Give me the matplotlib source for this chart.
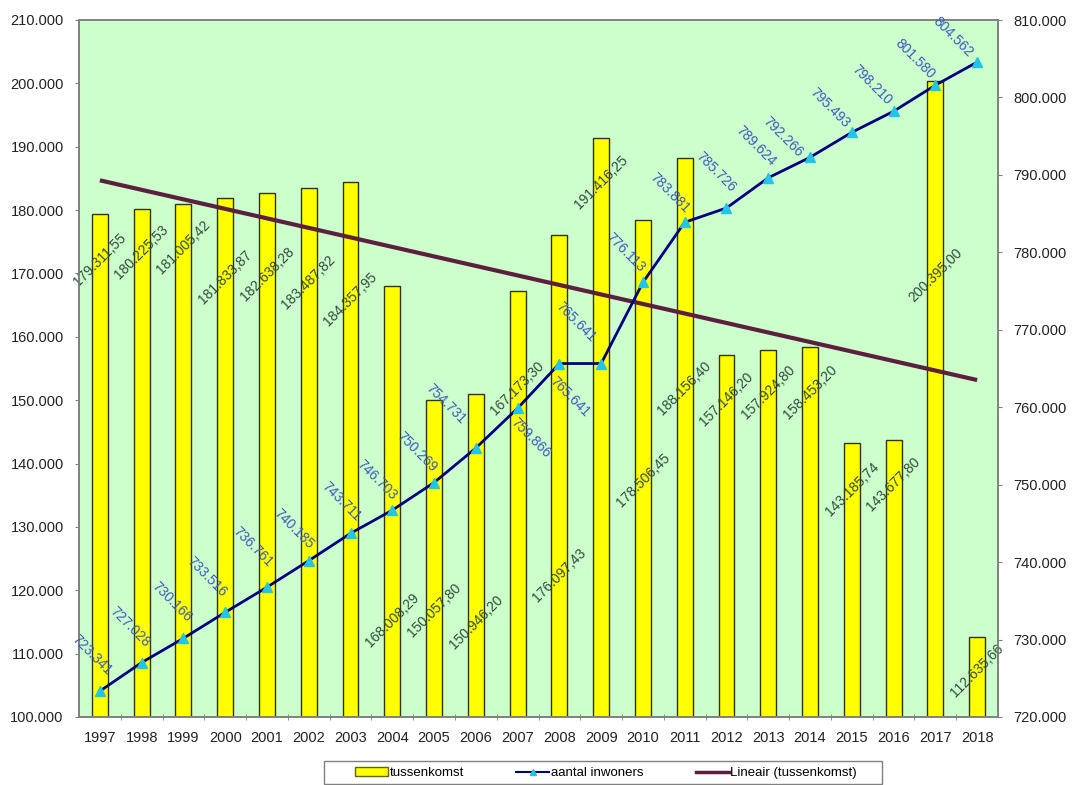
import matplotlib
matplotlib.use("Agg")
import matplotlib.pyplot as plt
import numpy as np
from matplotlib.lines import Line2D
from matplotlib.patches import Patch, Rectangle

plt.rcParams["font.family"] = ["Liberation Sans", "DejaVu Sans"]

# --- data -------------------------------------------------------------
years = [1997, 1998, 1999, 2000, 2001, 2002, 2003, 2004, 2005, 2006, 2007,
         2008, 2009, 2010, 2011, 2012, 2013, 2014, 2015, 2016, 2017, 2018]

tussenkomst = [179311.55, 180225.53, 181005.42, 181833.87, 182638.28,
               183487.82, 184357.95, 168008.29, 150057.80, 150946.20,
               167173.30, 176097.43, 191416.25, 178506.45, 188156.40,
               157146.20, 157924.80, 158453.20, 143185.74, 143677.80,
               200395.00, 112635.66]

inwoners = [723341, 727028, 730166, 733516, 736761, 740185, 743711, 746703,
            750269, 754731, 759866, 765641, 765641, 776113, 783881, 785726,
            789624, 792266, 795493, 798210, 801580, 804562]

left_ticks = list(range(100000, 210001, 10000))
right_ticks = list(range(720000, 810001, 10000))

# label placement (label centres)
bar_label_y = [172100, 173400, 174200, 169400, 169900, 168700, 166000,
               115300, 116800, 115000, 151900, 122400, 184400, 137400,
               151900, 150200, 151300, 151300, 136000, 136800, 169800,
               107300]
line_label_dx = [-0.19, -0.29, -0.29, -0.43, -0.35, -0.35, -0.22, -0.36,
                 -0.41, -0.71, 0.32, 0.25, -0.60, -0.41, -0.35, -0.25,
                 -0.30, -0.65, -0.53, -0.52, -0.49, -0.58]
line_label_y = [728000, 731600, 734850, 738100, 741950, 744300, 747800,
                750600, 754200, 760400, 756000, 761300, 771000, 780000,
                787700, 790400, 793700, 794900, 798600, 801600, 805000,
                807800]


def nl(v, dec=0):
    s = f"{v:,.{dec}f}"
    return s.replace(",", "#").replace(".", ",").replace("#", ".")


# --- figure -----------------------------------------------------------
W, H = 1072, 785
fig = plt.figure(figsize=(W / 100, H / 100), dpi=100)
fig.patch.set_facecolor("white")
ax = fig.add_axes([79 / W, (H - 717) / H, (998 - 79) / W, (717 - 20) / H])
ax.set_facecolor("#CCFFCC")

x = np.arange(len(years))
ax.bar(x, tussenkomst, width=0.38, color="#FFFF00", edgecolor="#333300",
       linewidth=1.0, zorder=2)

# linear trend of the bars
coef = np.polyfit(x, tussenkomst, 1)
ax.plot([x[0], x[-1]], np.polyval(coef, [x[0], x[-1]]), color="#5C1F3F",
        lw=3, solid_capstyle="butt", zorder=4)

for xi, v, ly in zip(x, tussenkomst, bar_label_y):
    ax.text(xi, ly, nl(v, 2), rotation=45, rotation_mode="anchor",
            ha="center", va="center", fontsize=10, color="#2F4A3A", zorder=3)

ax.set_xlim(-0.5, len(years) - 0.5)
ax.set_ylim(100000, 210000)
ax.set_yticks(left_ticks)
ax.set_yticklabels([nl(t) for t in left_ticks])
ax.set_xticks(x)
ax.set_xticklabels([str(y) for y in years])
ax.set_xticks(np.arange(0.5, len(years) - 0.5, 1), minor=True)
ax.tick_params(axis="x", which="major", length=0, pad=10, labelsize=10.5,
               colors="#222222")
ax.tick_params(axis="x", which="minor", length=5, direction="inout",
               color="#808080")
ax.tick_params(axis="y", length=3, pad=8, labelsize=10.5, colors="#222222")
ax.tick_params(axis="y", color="#808080")
for s in ax.spines.values():
    s.set_color("#808080")
    s.set_linewidth(1.2)

# population on the secondary axis
ax2 = ax.twinx()
ax2.plot(x, inwoners, color="#000080", lw=2, marker="^", markersize=7,
         markerfacecolor="#22C4E8", markeredgecolor="#22C4E8", zorder=5)
for xi, v, dx, ly in zip(x, inwoners, line_label_dx, line_label_y):
    ax2.text(xi + dx, ly, nl(v), rotation=-45, rotation_mode="anchor",
             ha="center", va="center", fontsize=10, color="#3A5AC0", zorder=6)
ax2.set_ylim(720000, 810000)
ax2.set_yticks(right_ticks)
ax2.set_yticklabels([nl(t) for t in right_ticks])
ax2.tick_params(axis="y", length=3, pad=8, labelsize=10.5, colors="#222222")
ax2.tick_params(axis="y", color="#808080")
for s in ax2.spines.values():
    s.set_color("#808080")
    s.set_linewidth(1.2)

# legend strip below the plot
handles = [
    Patch(facecolor="#FFFF00", edgecolor="#666600", linewidth=1.0),
    Line2D([], [], color="#000080", lw=1.5, marker="^", markersize=5,
           markerfacecolor="#22C4E8", markeredgecolor="#22C4E8"),
    Line2D([], [], color="#5C1F3F", lw=2.5),
]
fig.legend(handles, ["tussenkomst", "aantal inwoners",
                     "Lineair (tussenkomst)"],
           loc="center", bbox_to_anchor=(606 / W, 12 / H), ncol=3,
           fontsize=9.5, frameon=False, handlelength=2.5, handleheight=0.6,
           handletextpad=0.1, columnspacing=4.0, borderpad=0.0,
           borderaxespad=0.0)
fig.add_artist(Rectangle((324 / W, 1 / H), 558 / W, 23 / H,
                         transform=fig.transFigure, fill=False,
                         edgecolor="#808080", linewidth=1.0))

fig.savefig("out.png", dpi=100, facecolor="white")
